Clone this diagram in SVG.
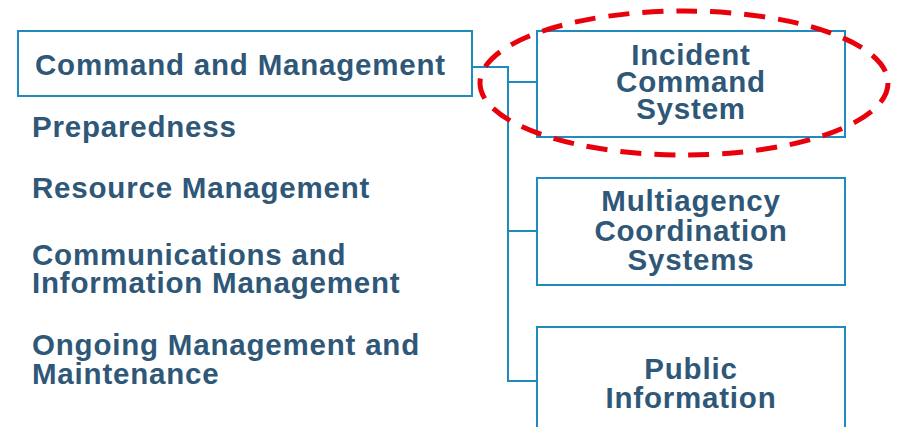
<svg xmlns="http://www.w3.org/2000/svg" width="898" height="427" viewBox="0 0 898 427">
<style>
.box{fill:#ffffff;stroke:#1f8bbf;stroke-width:2}
.conn{fill:none;stroke:#1f8bbf;stroke-width:2}
.t{font-family:"Liberation Sans",Arial,sans-serif;font-weight:bold;font-size:29.5px;letter-spacing:0.8px;fill:#2f5878}
.c{text-anchor:middle}
.hl{fill:none;stroke:#e8000b;stroke-width:5;stroke-dasharray:21 13}
</style>
<rect width="898" height="427" fill="#ffffff"/>
<g id="connectors">
<path class="conn" d="M472 67 H508 V381 H537"/>
<path class="conn" d="M508 82 H537"/>
<path class="conn" d="M508 231 H537"/>
</g>
<g id="command-management">
<rect class="box" x="18" y="31" width="454" height="65"/>
<text class="t" x="35" y="75">Command and Management</text>
</g>
<g id="preparedness"><text class="t" x="32" y="137">Preparedness</text></g>
<g id="resource-management"><text class="t" x="32" y="198">Resource Management</text></g>
<g id="communications"><text class="t" x="32" y="265">Communications and</text><text class="t" x="32" y="293">Information Management</text></g>
<g id="ongoing"><text class="t" x="32" y="355">Ongoing Management and</text><text class="t" x="32" y="384">Maintenance</text></g>
<g id="ics">
<rect class="box" x="537" y="31" width="308" height="106"/>
<text class="t c" x="691" y="65">Incident</text>
<text class="t c" x="691" y="92">Command</text>
<text class="t c" x="691" y="119">System</text>
</g>
<g id="mcs">
<rect class="box" x="537" y="178" width="308" height="107"/>
<text class="t c" x="691" y="211">Multiagency</text>
<text class="t c" x="691" y="241">Coordination</text>
<text class="t c" x="691" y="270">Systems</text>
</g>
<g id="public-information">
<rect class="box" x="537" y="327" width="308" height="110"/>
<text class="t c" x="691" y="379">Public</text>
<text class="t c" x="691" y="408">Information</text>
</g>
<g id="highlight"><ellipse class="hl" cx="684" cy="83" rx="204" ry="72"/></g>
</svg>
